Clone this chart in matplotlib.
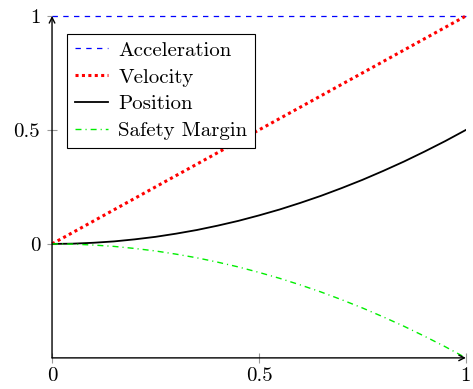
import matplotlib.pyplot as plt

plt.rcParams['font.family'] = 'cmr10'
plt.rcParams['mathtext.fontset'] = 'cm'
plt.rcParams['axes.formatter.use_mathtext'] = True

# values
t = [0.0, 0.05, 0.1, 0.15, 0.2, 0.25, 0.3, 0.35, 0.4, 0.45, 0.5,
     0.55, 0.6, 0.65, 0.7, 0.75, 0.8, 0.85, 0.9, 0.95, 1.0]
acceleration = [1.0] * 21
velocity = [0.0, 0.05, 0.1, 0.15, 0.2, 0.25, 0.3, 0.35, 0.4, 0.45, 0.5,
            0.55, 0.6, 0.65, 0.7, 0.75, 0.8, 0.85, 0.9, 0.95, 1.0]
position = [0.0, 0.001, 0.005, 0.011, 0.02, 0.031, 0.045, 0.061, 0.08, 0.101, 0.125,
            0.151, 0.18, 0.211, 0.245, 0.281, 0.32, 0.361, 0.405, 0.451, 0.5]
margin = [0.0, -0.001, -0.005, -0.011, -0.02, -0.031, -0.045, -0.061, -0.08, -0.101, -0.125,
          -0.151, -0.18, -0.211, -0.245, -0.281, -0.32, -0.361, -0.405, -0.451, -0.5]

fig = plt.figure(figsize=(4.73, 3.89), dpi=100)
ax = fig.add_axes([0.110, 0.080, 0.875, 0.879])

ax.plot(t, acceleration, color='blue', linestyle=(0, (4.3, 4.3)), lw=0.9, label='Acceleration', clip_on=False)
ax.plot(t, velocity, color='red', linestyle=(0, (1, 1.1)), lw=2.2, label='Velocity', clip_on=False)
ax.plot(t, position, color='black', lw=1.3, label='Position')
ax.plot(t, margin, color='#00ee00', linestyle=(0, (4.3, 2.9, 0.8, 2.9)), lw=1, label='Safety Margin', clip_on=False)

ax.set_xlim(0, 1)
ax.set_ylim(-0.5, 1)
ax.set_xticks([0, 0.5, 1])
ax.set_xticklabels(['0', '0.5', '1'])
ax.set_yticks([0, 0.5, 1])
ax.set_yticklabels(['0', '0.5', '1'])
ax.tick_params(direction='inout', length=7, width=0.8, color='#999999', labelsize=15)
ax.tick_params(axis='y', pad=5)
ax.tick_params(axis='x', pad=3)

for s in ax.spines.values():
    s.set_visible(False)
# axis lines with arrow heads
ax.annotate('', xy=(1.0, 0), xytext=(0, 0), xycoords='axes fraction',
            arrowprops=dict(arrowstyle='->', lw=1, color='black', shrinkA=0, shrinkB=0,
                            mutation_scale=10))
ax.annotate('', xy=(0, 1.0), xytext=(0, 0), xycoords='axes fraction',
            arrowprops=dict(arrowstyle='->', lw=1, color='black', shrinkA=0, shrinkB=0,
                            mutation_scale=10))

leg = ax.legend(loc='upper left', bbox_to_anchor=(0.037, 0.948), fontsize=15,
                fancybox=False, framealpha=1, edgecolor='black', handlelength=1.6,
                handletextpad=0.5, borderpad=0.35, labelspacing=0.4, borderaxespad=0)
leg.get_frame().set_linewidth(0.8)

fig.savefig('out.png', dpi=100)
